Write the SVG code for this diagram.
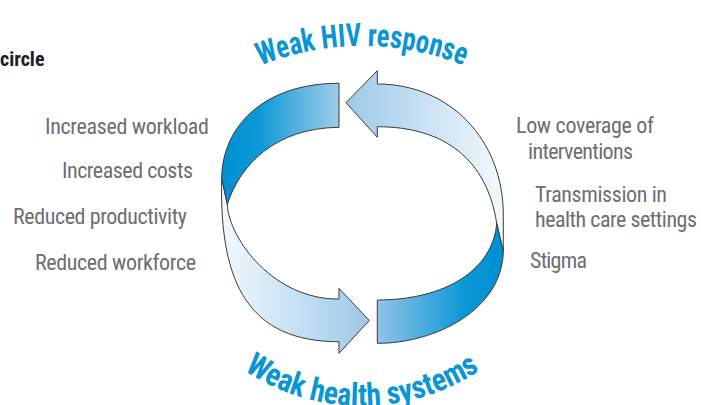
<svg xmlns="http://www.w3.org/2000/svg" width="701" height="405" viewBox="0 0 701 405">
<style>
.lbl{font-family:'Liberation Sans Narrow','Roboto Condensed','DejaVu Sans Condensed','Liberation Sans',sans-serif;font-size:22px;fill:#6d6e71;}
.ttl{font-family:'Liberation Sans Narrow','Roboto Condensed','DejaVu Sans Condensed','Liberation Sans',sans-serif;font-size:32px;font-weight:bold;fill:#0a95d4;}
.hd{font-family:'Liberation Sans Narrow','Roboto Condensed','DejaVu Sans Condensed','Liberation Sans',sans-serif;font-size:20px;font-weight:bold;fill:#231f20;}
.shape{stroke:#3a3a3a;stroke-width:1;stroke-linejoin:miter;}
</style>
<defs>
<linearGradient id="gLF" gradientUnits="userSpaceOnUse" x1="222" y1="0" x2="339" y2="0">
<stop offset="0" stop-color="#0090d2"/><stop offset="0.3" stop-color="#0a97d6"/><stop offset="1" stop-color="#a0ccea"/>
</linearGradient>
<linearGradient id="gLB" gradientUnits="userSpaceOnUse" x1="221" y1="0" x2="369" y2="0">
<stop offset="0" stop-color="#f3f9fd"/><stop offset="1" stop-color="#9cc8e9"/>
</linearGradient>
<linearGradient id="gRB" gradientUnits="userSpaceOnUse" x1="346" y1="0" x2="503" y2="0">
<stop offset="0" stop-color="#9dc9e9"/><stop offset="1" stop-color="#f3f9fd"/>
</linearGradient>
<linearGradient id="gRF" gradientUnits="userSpaceOnUse" x1="377" y1="0" x2="503" y2="0">
<stop offset="0" stop-color="#90c4e8"/><stop offset="0.7" stop-color="#0a97d6"/><stop offset="1" stop-color="#0090d2"/>
</linearGradient>
<path id="arcTop" d="M 90,318 A 272 272 0 0 1 634,318"/>
<path id="arcBot" d="M 150,194 A 212 212 0 0 0 574,194"/>
</defs>

<g id="connectors">
<g id="arrow-left">
<path class="shape" fill="url(#gLB)" d="M 221.7,178.3 C 219,285 250,341.7 339,341.7 L 339,353.3 L 369.3,320.5 L 339,288.3 L 339,299 C 275,300 229,240 227.3,204.3 Z"/>
<path class="shape" fill="url(#gLF)" d="M 339,83.3 C 262,83.3 222,128 221.7,178.3 L 227.3,204.3 C 240,165 275,128 339,127.3 Z"/>
</g>
<g id="arrow-right">
<path class="shape" fill="url(#gRB)" d="M 346,102.7 L 377.3,70.7 L 377.3,84 C 450,84 503.3,140 503.3,215 L 503.3,251.7 L 496.7,223.3 C 487,160 445,126.7 377.3,126.7 L 377.3,137.3 Z"/>
<path class="shape" fill="url(#gRF)" d="M 503.3,251.7 C 502,310 435,343.5 377.3,343.3 L 377.3,300 C 445,300 493,270 496.7,223.3 Z"/>
</g>
</g>

<g id="title-top">
<text class="ttl"><textPath href="#arcTop" startOffset="50%" text-anchor="middle" textLength="208" lengthAdjust="spacingAndGlyphs">Weak HIV response</textPath></text>
</g>
<g id="title-bottom">
<text class="ttl"><textPath href="#arcBot" startOffset="50%" text-anchor="middle" textLength="250" lengthAdjust="spacingAndGlyphs">Weak health systems</textPath></text>
</g>

<g id="heading">
<text class="hd" x="0" y="66">circle</text>
</g>

<g id="labels-left">
<text class="lbl" x="45" y="134" textLength="164">Increased workload</text>
<text class="lbl" x="62" y="178" textLength="131">Increased costs</text>
<text class="lbl" x="13" y="224" textLength="174">Reduced productivity</text>
<text class="lbl" x="35" y="270" textLength="161">Reduced workforce</text>
</g>
<g id="labels-right">
<text class="lbl" x="516" y="133" textLength="138">Low coverage of</text>
<text class="lbl" x="528" y="159" textLength="105">interventions</text>
<text class="lbl" x="535" y="202" textLength="132">Transmission in</text>
<text class="lbl" x="535" y="227" textLength="162">health care settings</text>
<text class="lbl" x="530" y="268" textLength="57">Stigma</text>
</g>
</svg>
